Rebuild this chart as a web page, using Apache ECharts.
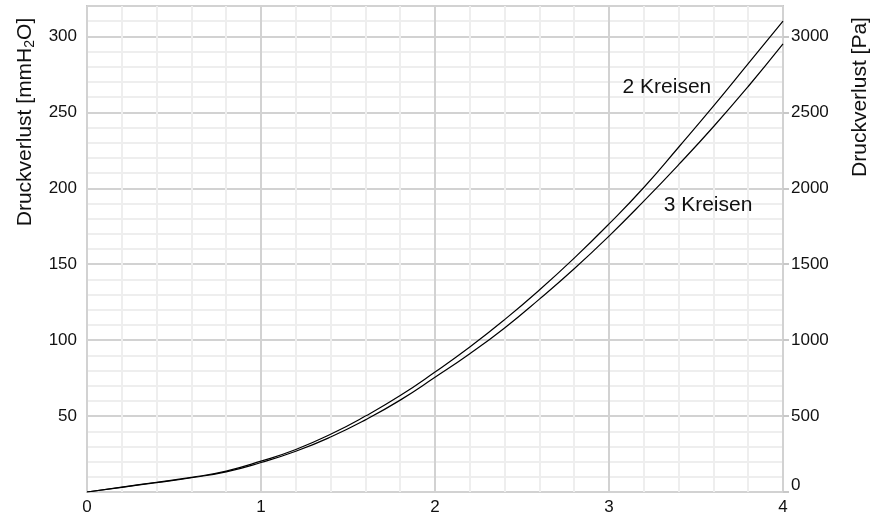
<!DOCTYPE html>
<html><head><meta charset="utf-8">
<script src="https://cdn.jsdelivr.net/npm/echarts@6/dist/echarts.min.js"></script>
<style>html,body{margin:0;padding:0;background:#fff}#c{width:884px;height:517px}</style>
</head><body><div id="c"></div>
<script>
const xValues = [0,0.2,0.4,0.6,0.8,1.0,1.2,1.4,1.6,1.8,2.0,2.2,2.4,2.6,2.8,3.0,3.2,3.4,3.6,3.8,4.0];
const kreisen2 = [0,3.2,6.4,9.6,13.8,20.3,28,38,50,63.5,79,95.5,113.5,133,154,176.5,200.5,227,254,282,310];
const kreisen3 = [0,3.1,6.2,9.4,13.3,19.4,26.8,36.2,47.5,60.5,75.5,91,108,127,147,168.5,191.5,215.5,240.5,267,295];
const seriesNames = ['2 Kreisen','3 Kreisen'];
const labelPos2 = [3.333, 266.5];
const labelPos3 = [3.569, 189];
const rightName = 'Druckverlust [Pa]';

const FONT = 'Liberation Sans, Arial, sans-serif';
const chart = echarts.init(document.getElementById('c'));
const pair = arr => xValues.map((x,i)=>[x,arr[i]]);
const lineStyle = {color:'#000', width:1.2};
chart.setOption({
  animation:false,
  textStyle:{fontFamily:FONT},
  grid:{left:87,right:101,top:6,bottom:25,show:true,borderColor:'#c8c8c8',borderWidth:2,backgroundColor:'transparent'},
  xAxis:{type:'value',min:0,max:4,interval:1,
    axisLine:{show:false},axisTick:{show:false},
    axisLabel:{color:'#111',fontSize:17,fontFamily:FONT,margin:7},
    splitLine:{show:true,lineStyle:{color:'#d2d2d2',width:2}},
    minorTick:{show:false,splitNumber:5},
    minorSplitLine:{show:true,lineStyle:{color:'#eeeeee',width:2}}},
  yAxis:[{type:'value',min:0,max:320,interval:50,position:'left',
    axisLine:{show:false},axisTick:{show:false},
    axisLabel:{color:'#111',fontSize:17,fontFamily:FONT,margin:10,showMaxLabel:false,
      formatter:v=> v===0 ? '' : String(v)},
    splitLine:{show:true,lineStyle:{color:'#d2d2d2',width:2}},
    minorTick:{show:false,splitNumber:5},
    minorSplitLine:{show:true,lineStyle:{color:'#eeeeee',width:2}}},
   {type:'value',min:0,max:3200,interval:500,position:'right',
    axisLine:{show:false},
    axisTick:{show:true,length:6,lineStyle:{color:'#c8c8c8',width:2}},
    axisLabel:{color:'#111',fontSize:17,fontFamily:FONT,margin:8,showMaxLabel:false,
      formatter:v=> v===0 ? '{z|0}' : String(v),
      rich:{z:{fontSize:17,fontFamily:FONT,color:'#111',padding:[0,0,14,0]}}},
    splitLine:{show:false}}],
  series:[
    {name:seriesNames[0],type:'line',data:pair(kreisen2),smooth:true,showSymbol:false,lineStyle},
    {name:seriesNames[1],type:'line',data:pair(kreisen3),smooth:true,showSymbol:false,lineStyle}
  ]
});
const p2 = chart.convertToPixel({xAxisIndex:0,yAxisIndex:0}, labelPos2);
const p3 = chart.convertToPixel({xAxisIndex:0,yAxisIndex:0}, labelPos3);
chart.setOption({
  graphic:[
    {type:'text',x:p2[0],y:p2[1],style:{text:seriesNames[0],textAlign:'center',textVerticalAlign:'middle',font:'21px '+FONT,fill:'#111'}},
    {type:'text',x:p3[0],y:p3[1],style:{text:seriesNames[1],textAlign:'center',textVerticalAlign:'middle',font:'21px '+FONT,fill:'#111'}},
    {type:'text',x:25,y:122,rotation:Math.PI/2,
      style:{text:'{a|Druckverlust [mmH}{s|2}{a|O]}',textAlign:'center',textVerticalAlign:'middle',
        rich:{a:{fontSize:21,fontFamily:FONT,fill:'#111'},s:{fontSize:14,fontFamily:FONT,fill:'#111',padding:[10,0,0,0]}}}},
    {type:'text',x:860,y:97,rotation:Math.PI/2,
      style:{text:rightName,textAlign:'center',textVerticalAlign:'middle',font:'21px '+FONT,fill:'#111'}}
  ]
});
</script></body></html>
